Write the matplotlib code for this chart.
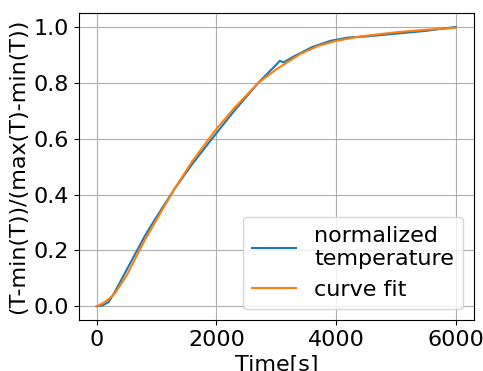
import matplotlib
matplotlib.use("Agg")
import matplotlib.pyplot as plt

t_meas = [0, 100, 200, 300, 400, 600, 800, 1000, 1300, 1600, 2000, 2300,
          2700, 3000, 3060, 3120, 3300, 3600, 3900, 4200, 4500, 5000, 5500, 6000]
temp_norm = [0.0, 0.003, 0.015, 0.05, 0.09, 0.17, 0.25, 0.32, 0.42, 0.51, 0.62, 0.70,
             0.80, 0.865, 0.879, 0.873, 0.895, 0.928, 0.95, 0.962, 0.966, 0.976, 0.986, 1.0]

# fitted curve
t_fit = [0, 100, 200, 300, 500, 800, 1000, 1300, 1600, 2000, 2300, 2700,
         3000, 3400, 3700, 4000, 4400, 5000, 5500, 6000]
temp_fit = [0.0, 0.01, 0.025, 0.045, 0.11, 0.235, 0.31, 0.42, 0.52, 0.635, 0.71, 0.80,
            0.848, 0.903, 0.932, 0.95, 0.966, 0.981, 0.99, 0.997]

plt.rcParams['font.size'] = 16

fig = plt.figure(figsize=(4.83, 3.71), dpi=100)
ax = fig.add_axes([0.163, 0.137, 0.818, 0.828])

ax.plot(t_meas, temp_norm, label='normalized\ntemperature')
ax.plot(t_fit, temp_fit, label='curve fit')

ax.set_xlabel('Time[s]')
ax.set_ylabel('(T-min(T))/(max(T)-min(T))')
ax.set_xticks([0, 2000, 4000, 6000])
ax.grid(True)
ax.legend(loc='lower right')

fig.savefig('out.png', dpi=100)
